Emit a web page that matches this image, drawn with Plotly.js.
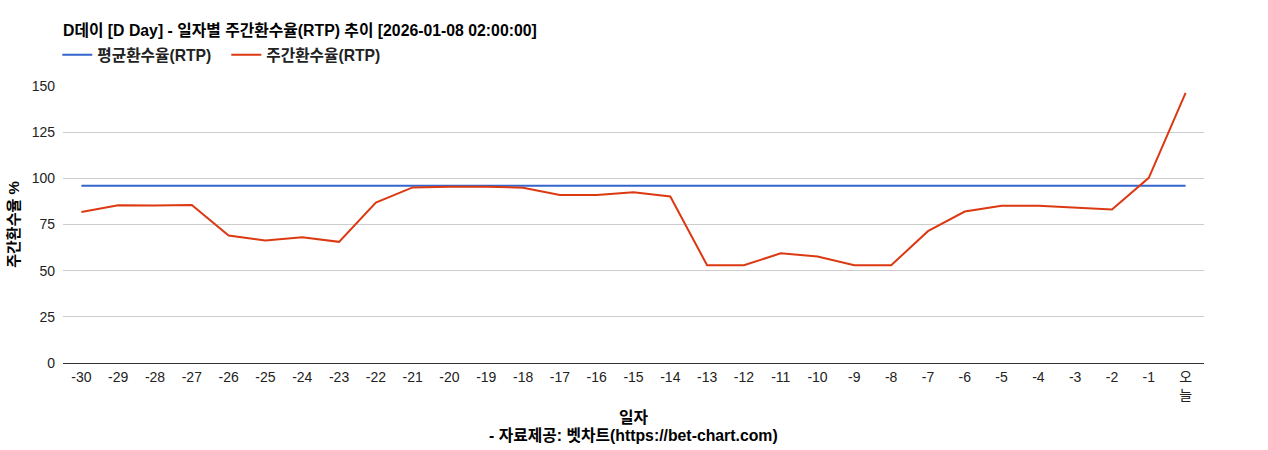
<!DOCTYPE html>
<html>
<head>
<meta charset="utf-8">
<script src="https://cdn.plot.ly/plotly-3.0.1.min.js"></script>
<style>html,body{margin:0;padding:0;background:#fff;}#chart{width:1268px;height:450px;}</style>
</head>
<body>
<div id="chart"></div>
<script>
const categories = ['-30','-29','-28','-27','-26','-25','-24','-23','-22','-21','-20','-19','-18','-17','-16','-15','-14','-13','-12','-11','-10','-9','-8','-7','-6','-5','-4','-3','-2','-1','오늘'];
const tickLabels = ['-30','-29','-28','-27','-26','-25','-24','-23','-22','-21','-20','-19','-18','-17','-16','-15','-14','-13','-12','-11','-10','-9','-8','-7','-6','-5','-4','-3','-2','-1','오<br>늘'];
const averageRtp = [96,96,96,96,96,96,96,96,96,96,96,96,96,96,96,96,96,96,96,96,96,96,96,96,96,96,96,96,96,96,96];
const weeklyRtp = [81.8,85.4,85.3,85.6,69.0,66.4,68.1,65.6,86.9,95.1,95.5,95.5,94.9,91.0,91.0,92.4,90.2,52.9,52.9,59.4,57.7,52.9,52.9,71.4,82.0,85.1,85.1,84.2,83.1,100.3,146.3];
const yTicks = [0,25,50,75,100,125,150];
const seriesNames = ['평균환수율(RTP)','주간환수율(RTP)'];
const titleText = 'D데이 [D Day] - 일자별 주간환수율(RTP) 추이 [2026-01-08 02:00:00]';
const xTitle = '일자';
const yTitle = '주간환수율 %';
const sourceText = '- 자료제공: 벳차트(https://bet-chart.com)';

const FONT = 'Liberation Sans, Arial, "Noto Sans CJK KR", sans-serif';

const traces = [
  {x: categories, y: averageRtp, name: '<b>' + seriesNames[0] + '</b>', type: 'scatter', mode: 'lines',
   line: {color: '#3366cc', width: 2}},
  {x: categories, y: weeklyRtp, name: '<b>' + seriesNames[1] + '</b>', type: 'scatter', mode: 'lines',
   line: {color: '#dc3912', width: 2}}
];

const layout = {
  width: 1268, height: 450,
  margin: {l: 63, r: 64, t: 86, b: 87},
  paper_bgcolor: '#fff', plot_bgcolor: '#fff',
  font: {family: FONT, size: 14, color: '#222'},
  title: {text: '<b>' + titleText + '</b>', xref: 'container', yref: 'container',
          x: 63/1268, xanchor: 'left', y: 1 - 30/450, yanchor: 'middle',
          font: {family: FONT, size: 15.8, color: '#000'}},
  showlegend: true,
  legend: {orientation: 'h', x: -0.005, xanchor: 'left', y: 1 + 31/277, yanchor: 'middle',
           font: {family: FONT, size: 15.7, color: '#222'}, traceorder: 'normal',
           itemwidth: 30, entrywidth: 124, entrywidthmode: 'pixels', bgcolor: 'rgba(0,0,0,0)'},
  xaxis: {type: 'category', tickvals: categories, ticktext: tickLabels,
          range: [-0.5, categories.length - 0.5],
          showgrid: false, zeroline: false, showline: false, ticks: '',
          ticklabelstandoff: 4,
          tickfont: {family: FONT, size: 14, color: '#222'}, tickangle: 0,
          title: {text: '<b>' + xTitle + '</b>', standoff: 9, font: {family: FONT, size: 15.8, color: '#000'}},
          fixedrange: true},
  yaxis: {range: [0, 150], tickvals: yTicks,
          showgrid: true, gridcolor: '#cccccc', gridwidth: 1,
          zeroline: true, zerolinecolor: '#333333', zerolinewidth: 1,
          showline: false, ticks: '', ticklabelstandoff: 7,
          tickfont: {family: FONT, size: 14, color: '#222'},
          title: {text: '<b>' + yTitle + '</b>', standoff: 8, font: {family: FONT, size: 15, color: '#000'}},
          fixedrange: true},
  annotations: [
    {text: '<b>' + sourceText + '</b>', xref: 'paper', yref: 'paper', x: 0.5, xanchor: 'center',
     y: (363 - 435) / 277, yanchor: 'middle', showarrow: false, font: {family: FONT, size: 15.8, color: '#000'}}
  ]
};

Plotly.newPlot('chart', traces, layout, {displayModeBar: false, staticPlot: true});
</script>
</body>
</html>
